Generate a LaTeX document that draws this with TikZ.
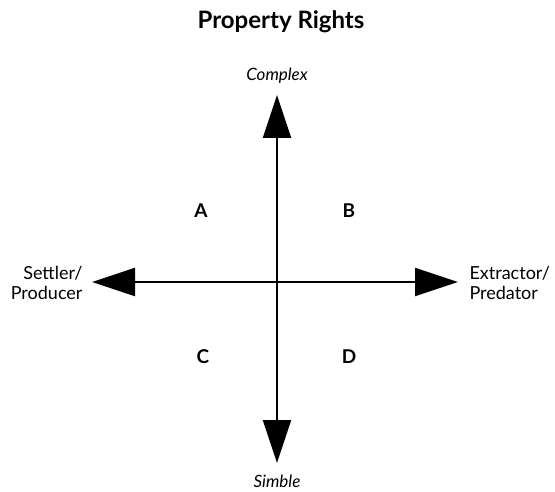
\documentclass[tikz,border=0pt]{standalone}
\usepackage{fontspec}
\setmainfont{Lato}
\usetikzlibrary{arrows.meta}
\begin{document}
\begin{tikzpicture}[x=1pt,y=-1pt,
  axis/.style={line width=2.2pt,-{Triangle[length=43pt,width=28pt]}},
  lbl/.style={font=\fontsize{17}{20}\selectfont\itshape},
  side/.style={font=\fontsize{18}{20}\selectfont},
  quad/.style={font=\fontsize{19}{22}\selectfont\bfseries},
  ttl/.style={font=\fontsize{24}{28}\selectfont\bfseries}]
\useasboundingbox (0,0) rectangle (555,492);
\coordinate (o) at (277,282);
\coordinate (top) at (277,95);
\coordinate (bot) at (277,463);
\coordinate (lft) at (92,282);
\coordinate (rgt) at (458,282);
\draw[axis] (o) -- (top);
\draw[axis] (o) -- (bot);
\draw[axis] (o) -- (lft);
\draw[axis] (o) -- (rgt);
\node[ttl] (title) at (281,22) {Property Rights};
\node[lbl] (cx) at (277,76) {Complex};
\node[lbl] (sm) at (277,481) {Simble};
\node[side,align=right,anchor=east] (sp) at (86,283) {Settler/\\Producer};
\node[side,align=left,anchor=west] (ep) at (466,283) {Extractor/\\Predator};
\node[quad] (A) at (201,211) {A};
\node[quad] (B) at (349,211) {B};
\node[quad] (C) at (203,357) {C};
\node[quad] (D) at (349,357) {D};
\end{tikzpicture}
\end{document}
